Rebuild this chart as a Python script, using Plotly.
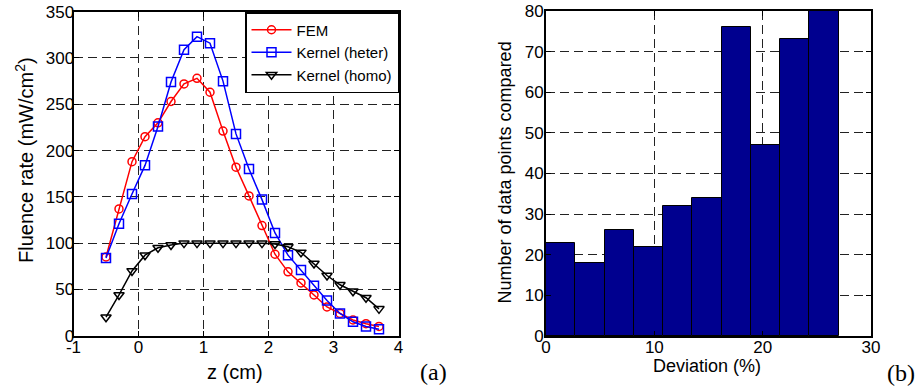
import plotly.graph_objects as go

# Depth positions along z (cm)
z_cm = [-0.5, -0.3, -0.1, 0.1, 0.3, 0.5, 0.7, 0.9, 1.1, 1.3, 1.5,
        1.7, 1.9, 2.1, 2.3, 2.5, 2.7, 2.9, 3.1, 3.3, 3.5, 3.7]

# Fluence rate (mW/cm^2) for each model
fem = [85, 137, 188, 215, 230, 253, 272, 278, 263, 221, 182,
       151, 119, 88, 69, 57, 44, 31, 24, 17, 13, 10]
kernel_heter = [84, 121, 153, 184, 226, 274, 309, 323, 316, 275, 218,
                180, 147, 111, 87, 71, 54, 38, 24, 15, 10, 7]
kernel_homo = [20, 44, 70, 87, 95, 98, 100, 100, 100, 100, 100,
               100, 100, 99, 96, 90, 78, 65, 55, 48, 41, 29]

# Histogram of deviations (%): bin centres and counts
dev_bin_width = 2.7
dev_centers = [1.35, 4.05, 6.75, 9.45, 12.15, 14.85, 17.55, 20.25, 22.95, 25.65]
dev_counts = [23, 18, 26, 22, 32, 34, 76, 47, 73, 80]

W, H = 917, 392
FONT = "Liberation Sans, Arial, sans-serif"
SERIF = "Liberation Serif, Times New Roman, serif"

fig = go.Figure()

series = [
    ("FEM", fem, "#FF0000", "circle-open", 8),
    ("Kernel (heter)", kernel_heter, "#0000FF", "square-open", 9),
    ("Kernel (homo)", kernel_homo, "#000000", "triangle-down-open", 9),
]
for name, vals, color, symbol, size in series:
    fig.add_trace(go.Scatter(
        x=z_cm, y=vals, name=name, mode="lines+markers",
        line=dict(color=color, width=1.5),
        marker=dict(symbol=symbol, size=size, color=color,
                    line=dict(color=color, width=1.5)),
        xaxis="x", yaxis="y",
    ))

fig.add_trace(go.Bar(
    x=dev_centers, y=dev_counts, width=dev_bin_width,
    marker=dict(color="#00008F", line=dict(color="#000000", width=1)),
    showlegend=False, xaxis="x2", yaxis="y2",
))

axis_common = dict(
    showline=True, linecolor="black", linewidth=2, mirror="ticks",
    ticks="inside", ticklen=5, tickwidth=1, tickcolor="black",
    showgrid=True, gridcolor="#222222", gridwidth=1, griddash="9px,5px",
    zeroline=False, automargin=False,
    tickfont=dict(family=FONT, size=17, color="black"),
)

fig.update_layout(
    width=W, height=H,
    margin=dict(l=0, r=0, t=0, b=0, autoexpand=False),
    paper_bgcolor="white", plot_bgcolor="white",
    bargap=0,
    xaxis=dict(domain=[73.5 / W, 398.5 / W], range=[-1, 4], dtick=1,
               tickvals=[-1, 0, 1, 2, 3, 4], ticktext=["-1", "0", "1", "2", "3", "4"],
               anchor="y", ticklabelstandoff=-5, **axis_common),
    yaxis=dict(domain=[1 - 335.7 / H, 1 - 11.7 / H], range=[0, 350], dtick=50,
               anchor="x", ticklabelstandoff=-6, **axis_common),
    xaxis2=dict(domain=[546 / W, 871 / W], range=[0, 30], dtick=10,
                anchor="y2", ticklabelstandoff=-5, **axis_common),
    yaxis2=dict(domain=[1 - 336 / H, 1 - 11 / H], range=[0, 80], dtick=10,
                anchor="x2", ticklabelstandoff=-3, **axis_common),
    legend=dict(
        x=399 / W, xanchor="right", y=1 - 12 / H, yanchor="top",
        bgcolor="white", bordercolor="black", borderwidth=1.5,
        font=dict(family=FONT, size=15, color="black"),
        tracegroupgap=0, itemwidth=40,
    ),
    showlegend=True,
)

def label(text, x_px, y_px, size, family=FONT, angle=0):
    fig.add_annotation(
        text=text, x=x_px / W, y=1 - y_px / H, xref="paper", yref="paper",
        xanchor="center", yanchor="middle", showarrow=False, textangle=angle,
        font=dict(family=family, size=size, color="black"),
    )

label("z (cm)", 235, 371.5, 20)
label("Fluence rate (mW/cm<sup>2</sup>)", 24, 160, 20, angle=-90)
label("Deviation (%)", 706.5, 366, 18)
label("Number of data points compared", 504, 172.5, 18, angle=-90)
label("(a)", 433, 371.5, 24, family=SERIF)
label("(b)", 901, 372.5, 24, family=SERIF)

fig.write_html("out.html")
